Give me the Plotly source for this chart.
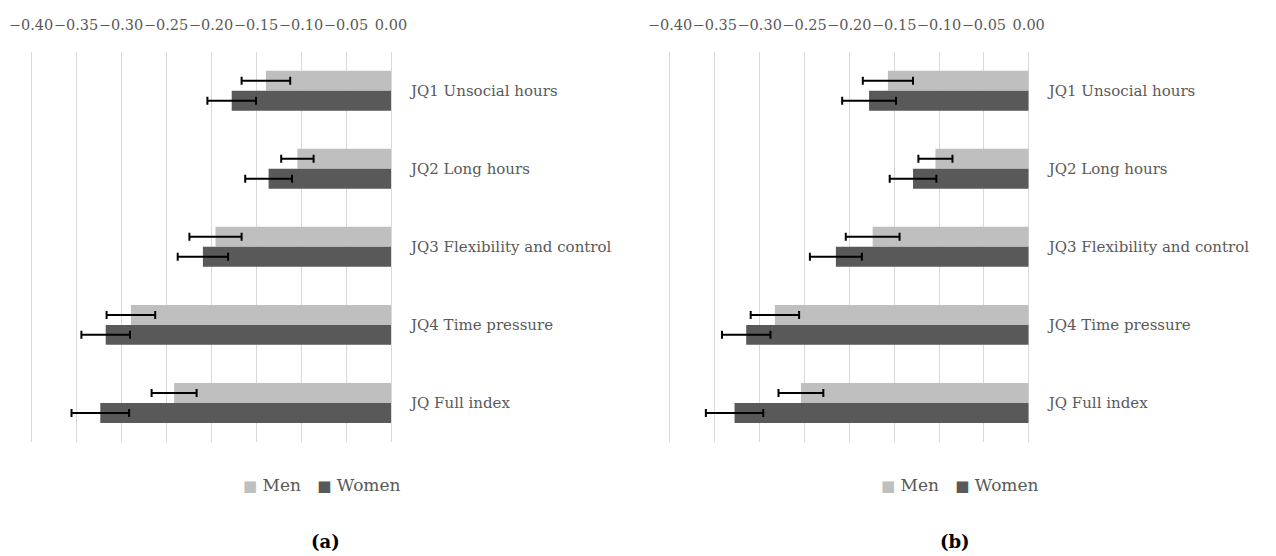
import plotly.graph_objects as go

categories = ["JQ1 Unsocial hours", "JQ2 Long hours", "JQ3 Flexibility and control",
              "JQ4 Time pressure", "JQ Full index"]
tick_values = [-0.40, -0.35, -0.30, -0.25, -0.20, -0.15, -0.10, -0.05, 0.00]
series_names = ["Men", "Women"]

# Panel (a)
men_a = [-0.139, -0.104, -0.195, -0.289, -0.241]
men_a_err = [0.027, 0.018, 0.029, 0.027, 0.025]
women_a = [-0.177, -0.136, -0.209, -0.317, -0.323]
women_a_err = [0.027, 0.026, 0.028, 0.027, 0.032]

# Panel (b)
men_b = [-0.157, -0.104, -0.174, -0.283, -0.254]
men_b_err = [0.028, 0.019, 0.030, 0.027, 0.025]
women_b = [-0.178, -0.129, -0.215, -0.315, -0.328]
women_b_err = [0.030, 0.026, 0.029, 0.027, 0.032]

MEN_COLOR = "#BFBFBF"
WOMEN_COLOR = "#595959"
TEXT_COLOR = "#595959"
GRID_COLOR = "#D9D9D9"
FONT = "DejaVu Serif"

W, H = 1276, 556
PX_PER_UNIT = 900.0
PAD = 0.004  # small overhang so the -0.40 gridline is not clipped at the edge

fig = go.Figure()


def add_panel(men, men_err, women, women_err, xa, ya):
    for name, vals, errs, color in ((series_names[0], men, men_err, MEN_COLOR),
                                    (series_names[1], women, women_err, WOMEN_COLOR)):
        fig.add_trace(go.Bar(
            name=name, y=categories, x=vals, orientation="h",
            marker=dict(color=color, line=dict(width=0)),
            error_x=dict(type="data", array=errs, visible=True,
                         color="black", thickness=2, width=4),
            xaxis=xa, yaxis=ya, showlegend=False,
        ))


add_panel(men_a, men_a_err, women_a, women_a_err, "x", "y")
add_panel(men_b, men_b_err, women_b, women_b_err, "x2", "y2")

plot_top = 51.6
plot_bottom = 442.0
ydom = [(H - plot_bottom) / H, (H - plot_top) / H]
pad_px = PAD * PX_PER_UNIT

xaxis_common = dict(
    range=[-0.4 - PAD, 0.0], side="top", tickvals=tick_values, tickformat=".2f",
    tickangle=0, automargin=False,
    showgrid=True, gridcolor=GRID_COLOR, gridwidth=1,
    zeroline=True, zerolinecolor=GRID_COLOR, zerolinewidth=1,
    showline=False, ticks="", ticklabelstandoff=18,
    tickfont=dict(family=FONT, size=14.5, color=TEXT_COLOR),
)
yaxis_common = dict(
    categoryorder="array", categoryarray=categories, autorange="reversed",
    side="right", showgrid=False, zeroline=False, showline=False, ticks="",
    ticklabelstandoff=19, automargin=False,
    tickfont=dict(family=FONT, size=15, color=TEXT_COLOR),
)


def legend_text():
    sq = '<span style="color:{c};font-size:15px">■</span>'
    return (sq.format(c=MEN_COLOR) + " " + series_names[0] + "   "
            + sq.format(c=WOMEN_COLOR) + " " + series_names[1])


legend_y = (H - 485) / H
annotations = [
    dict(text=legend_text(), x=322 / W, y=legend_y, xref="paper", yref="paper",
         showarrow=False, xanchor="center", yanchor="middle",
         font=dict(family=FONT, size=17, color=TEXT_COLOR)),
    dict(text=legend_text(), x=960 / W, y=legend_y, xref="paper", yref="paper",
         showarrow=False, xanchor="center", yanchor="middle",
         font=dict(family=FONT, size=17, color=TEXT_COLOR)),
    dict(text="<b>(a)</b>", x=325 / W, y=(H - 541) / H, xref="paper", yref="paper",
         showarrow=False, xanchor="center", yanchor="middle",
         font=dict(family=FONT, size=18, color="black")),
    dict(text="<b>(b)</b>", x=955 / W, y=(H - 541) / H, xref="paper", yref="paper",
         showarrow=False, xanchor="center", yanchor="middle",
         font=dict(family=FONT, size=18, color="black")),
]

fig.update_layout(
    width=W, height=H, margin=dict(l=0, r=0, t=0, b=0),
    paper_bgcolor="white", plot_bgcolor="white",
    barmode="group", bargap=0.488, bargroupgap=0.0,
    font=dict(family=FONT, color=TEXT_COLOR),
    xaxis=dict(domain=[(31 - pad_px) / W, 391 / W], anchor="y", **xaxis_common),
    yaxis=dict(domain=ydom, anchor="x", **yaxis_common),
    xaxis2=dict(domain=[(670 - pad_px) / W, 1028.7 / W], anchor="y2", **xaxis_common),
    yaxis2=dict(domain=ydom, anchor="x2", **yaxis_common),
    showlegend=False,
    annotations=annotations,
)

fig.write_html("out.html")
